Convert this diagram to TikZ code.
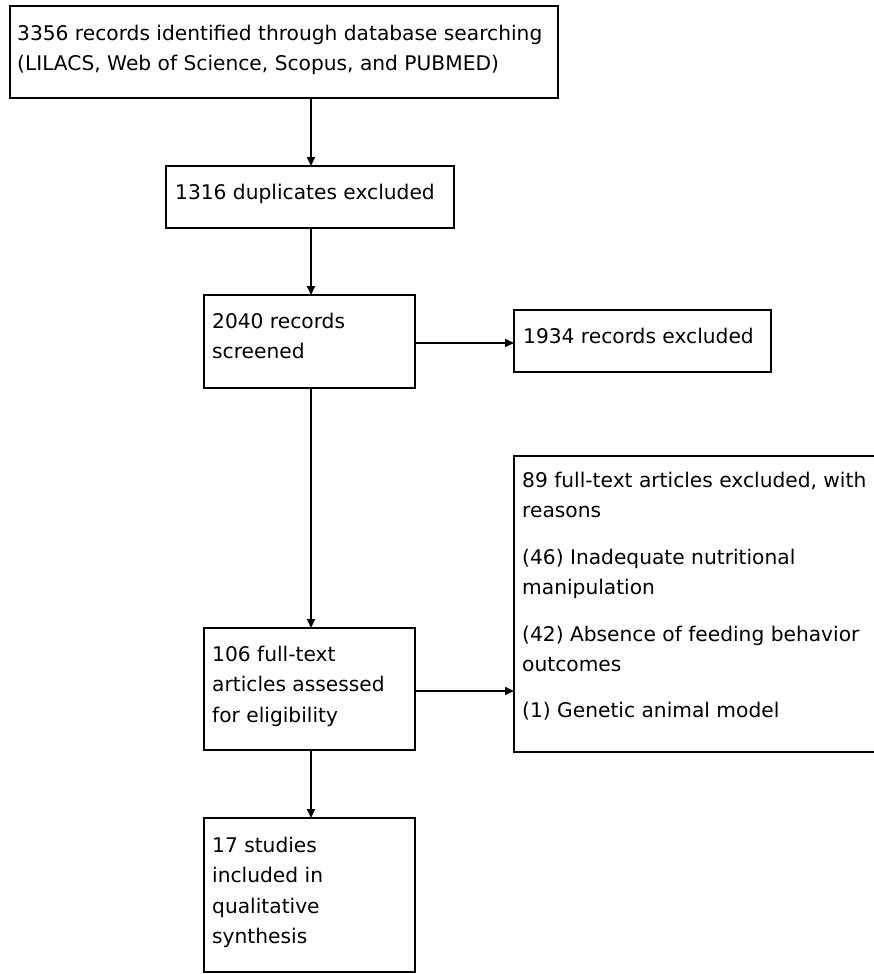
\documentclass[tikz,border=0pt]{standalone}
\usepackage{fontspec}
\setmainfont{DejaVu Sans}
\usetikzlibrary{arrows.meta,shapes.misc,calc}
\tikzset{
  box/.style={draw=black, line width=2pt, chamfered rectangle,
    chamfered rectangle xsep=4pt, chamfered rectangle ysep=4pt,
    inner sep=0pt, outer sep=0pt, anchor=north west},
  txt/.style={inner sep=0pt, anchor=north west, align=left, text=black,
    font=\fontsize{20.2pt}{30.5pt}\selectfont},
  conn/.style={line width=1.8pt, draw=black, -{Triangle[length=9pt,width=8pt]}}
}
\newcommand{\fst}{\rule{0pt}{20pt}}
\begin{document}
\begin{tikzpicture}[x=1pt,y=-1pt]
\useasboundingbox (0,0) rectangle (874,974);
\clip (0,0) rectangle (874,974);
\fill[white] (0,0) rectangle (874,974);
% boxes
\node[box, minimum width=548pt, minimum height=92pt] (b1) at (10,6) {};
\node[box, minimum width=288pt, minimum height=62pt] (b2) at (166,166) {};
\node[box, minimum width=211pt, minimum height=93pt] (b3) at (204,295) {};
\node[box, minimum width=257pt, minimum height=62pt] (b4) at (514,310) {};
\node[box, minimum width=211pt, minimum height=122pt] (b5) at (204,628) {};
\node[box, minimum width=380pt, minimum height=296pt] (b6) at (514,456) {};
\node[box, minimum width=211pt, minimum height=154pt] (b7) at (204,818) {};
% texts
\node[txt] (t1) at ([shift={(7pt,-14pt)}]b1.north west) {\fst 3356 records identified through database searching\\(LILACS, Web of Science, Scopus, and PUBMED)};
\node[txt] (t2) at ([shift={(9pt,-13pt)}]b2.north west) {\fst 1316 duplicates excluded};
\node[txt] (t3) at ([shift={(8pt,-13pt)}]b3.north west) {\fst 2040 records\\screened};
\node[txt] (t4) at ([shift={(9pt,-13pt)}]b4.north west) {\fst 1934 records excluded};
\node[txt] (t5) at ([shift={(8pt,-13pt)}]b5.north west) {\fst 106 full-text\\articles assessed\\for eligibility};
\node[txt] (t6) at ([shift={(8pt,-11pt)}]b6.north west) {\fst 89 full-text articles excluded, with\\reasons\\[16pt](46) Inadequate nutritional\\manipulation\\[16pt](42) Absence of feeding behavior\\outcomes\\[15pt](1) Genetic animal model};
\node[txt] (t7) at ([shift={(8pt,-14pt)}]b7.north west) {\fst 17 studies\\included in\\qualitative\\synthesis};
% connectors
\coordinate (spine) at (311,0);
\draw[conn] (b1.south -| spine) -- (b2.north -| spine);
\draw[conn] (b2.south -| spine) -- (b3.north -| spine);
\draw[conn] (b3.south -| spine) -- (b5.north -| spine);
\draw[conn] (b5.south -| spine) -- (b7.north -| spine);
\draw[conn] ([yshift=-1.5pt]b3.east) -- ([yshift=-1.5pt]b3.east -| b4.west);
\draw[conn] ([yshift=-2pt]b5.east) -- ([yshift=-2pt]b5.east -| b6.west);
\end{tikzpicture}
\end{document}
